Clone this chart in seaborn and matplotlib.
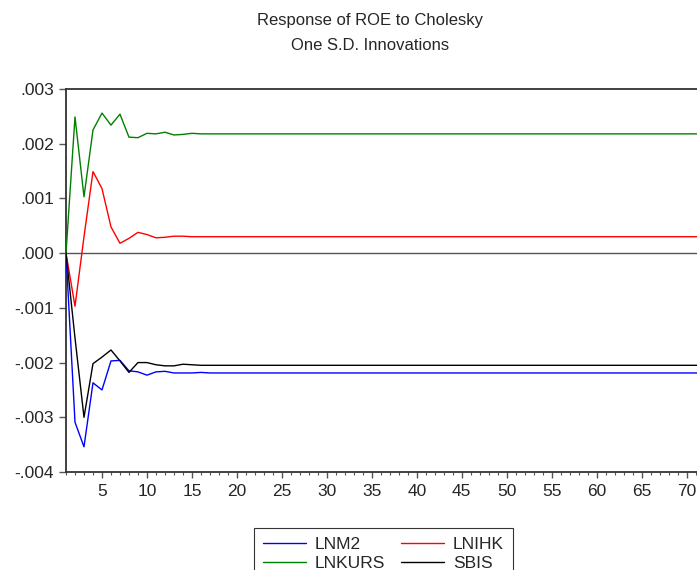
import matplotlib
matplotlib.use("Agg")
import matplotlib.pyplot as plt
import seaborn as sns
import pandas as pd
from matplotlib.ticker import MultipleLocator, FuncFormatter

# impulse responses of ROE, periods 1..72
periods = list(range(1, 73))
lnm2 = [0, -.00309, -.00354, -.00237, -.00250, -.00197, -.00196, -.00215, -.00217, -.00223,
        -.00217, -.00216, -.00219, -.00219, -.00219, -.00218, -.00219, -.00219, -.00219, -.00219,
        -.00219, -.00219, -.00219, -.00219, -.00219, -.00219, -.00219, -.00219, -.00219, -.00219,
        -.00219, -.00219, -.00219, -.00219, -.00219, -.00219, -.00219, -.00219, -.00219, -.00219,
        -.00219, -.00219, -.00219, -.00219, -.00219, -.00219, -.00219, -.00219, -.00219, -.00219,
        -.00219, -.00219, -.00219, -.00219, -.00219, -.00219, -.00219, -.00219, -.00219, -.00219,
        -.00219, -.00219, -.00219, -.00219, -.00219, -.00219, -.00219, -.00219, -.00219, -.00219,
        -.00219, -.00219]
lnihk = [0, -.00097, .00030, .00149, .00118, .00048, .00018, .00027, .00038, .00034,
         .00028, .00029, .00031, .00031, .00030, .00030, .00030, .00030, .00030, .00030,
         .00030, .00030, .00030, .00030, .00030, .00030, .00030, .00030, .00030, .00030,
         .00030, .00030, .00030, .00030, .00030, .00030, .00030, .00030, .00030, .00030,
         .00030, .00030, .00030, .00030, .00030, .00030, .00030, .00030, .00030, .00030,
         .00030, .00030, .00030, .00030, .00030, .00030, .00030, .00030, .00030, .00030,
         .00030, .00030, .00030, .00030, .00030, .00030, .00030, .00030, .00030, .00030,
         .00030, .00030]
lnkurs = [0, .00249, .00103, .00225, .00256, .00234, .00254, .00212, .00211, .00219,
          .00218, .00221, .00216, .00217, .00219, .00218, .00218, .00218, .00218, .00218,
          .00218, .00218, .00218, .00218, .00218, .00218, .00218, .00218, .00218, .00218,
          .00218, .00218, .00218, .00218, .00218, .00218, .00218, .00218, .00218, .00218,
          .00218, .00218, .00218, .00218, .00218, .00218, .00218, .00218, .00218, .00218,
          .00218, .00218, .00218, .00218, .00218, .00218, .00218, .00218, .00218, .00218,
          .00218, .00218, .00218, .00218, .00218, .00218, .00218, .00218, .00218, .00218,
          .00218, .00218]
sbis = [0, -.00155, -.00300, -.00202, -.00190, -.00177, -.00197, -.00218, -.00200, -.00200,
        -.00204, -.00206, -.00206, -.00203, -.00204, -.00205, -.00205, -.00205, -.00205, -.00205,
        -.00205, -.00205, -.00205, -.00205, -.00205, -.00205, -.00205, -.00205, -.00205, -.00205,
        -.00205, -.00205, -.00205, -.00205, -.00205, -.00205, -.00205, -.00205, -.00205, -.00205,
        -.00205, -.00205, -.00205, -.00205, -.00205, -.00205, -.00205, -.00205, -.00205, -.00205,
        -.00205, -.00205, -.00205, -.00205, -.00205, -.00205, -.00205, -.00205, -.00205, -.00205,
        -.00205, -.00205, -.00205, -.00205, -.00205, -.00205, -.00205, -.00205, -.00205, -.00205,
        -.00205, -.00205]
series_names = ["LNM2", "LNIHK", "LNKURS", "SBIS"]
colors = ["#0000ff", "#ff0000", "#008000", "#000000"]

df = pd.DataFrame({"period": periods, "LNM2": lnm2, "LNIHK": lnihk,
                   "LNKURS": lnkurs, "SBIS": sbis})
long = df.melt(id_vars="period", var_name="shock", value_name="response")

sns.set_style("white")
plt.rcParams["font.family"] = ["Liberation Sans", "DejaVu Sans"]

fig = plt.figure(figsize=(6.97, 5.70), dpi=100)
ax = fig.add_axes([66 / 697, 1 - 472 / 570, 1 - 66 / 697, (472 - 89) / 570])

ax.axhline(0, color="#555555", lw=1.0, zorder=1)
sns.lineplot(data=long, x="period", y="response", hue="shock",
             hue_order=series_names, palette=colors, linewidth=1.0,
             ax=ax, legend=False, zorder=3)

ax.set_xlim(1, 71.15)
ax.set_ylim(-0.004, 0.003)
ax.xaxis.set_major_locator(MultipleLocator(5))
ax.xaxis.set_minor_locator(MultipleLocator(1))
ax.yaxis.set_major_locator(MultipleLocator(0.001))
ax.xaxis.set_major_formatter(FuncFormatter(lambda v, p: f"{int(v)}" if v >= 5 else ""))


def yfmt(v, p):
    if abs(v) < 1e-9:
        return ".000"
    return f"{v:.3f}".replace("0.", ".")


ax.yaxis.set_major_formatter(FuncFormatter(yfmt))
ax.tick_params(axis="y", which="major", direction="out", length=5, width=1,
               color="#555555", labelsize=12.5, pad=3.5, left=True)
ax.tick_params(axis="x", which="major", direction="out", length=4.5, width=1,
               color="#555555", labelsize=12.5, pad=4, bottom=True)
ax.tick_params(axis="x", which="minor", direction="out", length=2.2, width=0.8,
               color="#555555", bottom=True)
ax.set_xlabel("")
ax.set_ylabel("")

for side in ["left", "top", "bottom"]:
    ax.spines[side].set_color("#333333")
    ax.spines[side].set_linewidth(1.3)
ax.spines["right"].set_visible(False)

fig.text(370 / 697, 1 - 21 / 570, "Response of ROE to Cholesky", ha="center",
         va="center", fontsize=12)
fig.text(370 / 697, 1 - 45 / 570, "One S.D. Innovations", ha="center",
         va="center", fontsize=12)

# legend is filled row by row in the reference
order = [0, 2, 1, 3]
handles = [plt.Line2D([], [], color=colors[i], lw=1.0) for i in order]
labels = [series_names[i] for i in order]
leg = fig.legend(handles, labels, ncol=2, loc="upper left",
                 bbox_to_anchor=(254 / 697, 1 - 528 / 570), fontsize=12.5,
                 frameon=True, fancybox=False, edgecolor="black",
                 handlelength=2.5, columnspacing=0.9, labelspacing=0.25,
                 borderpad=0.5, handletextpad=0.5, borderaxespad=0)
leg.get_frame().set_linewidth(0.8)

fig.savefig("out.png", dpi=100)
